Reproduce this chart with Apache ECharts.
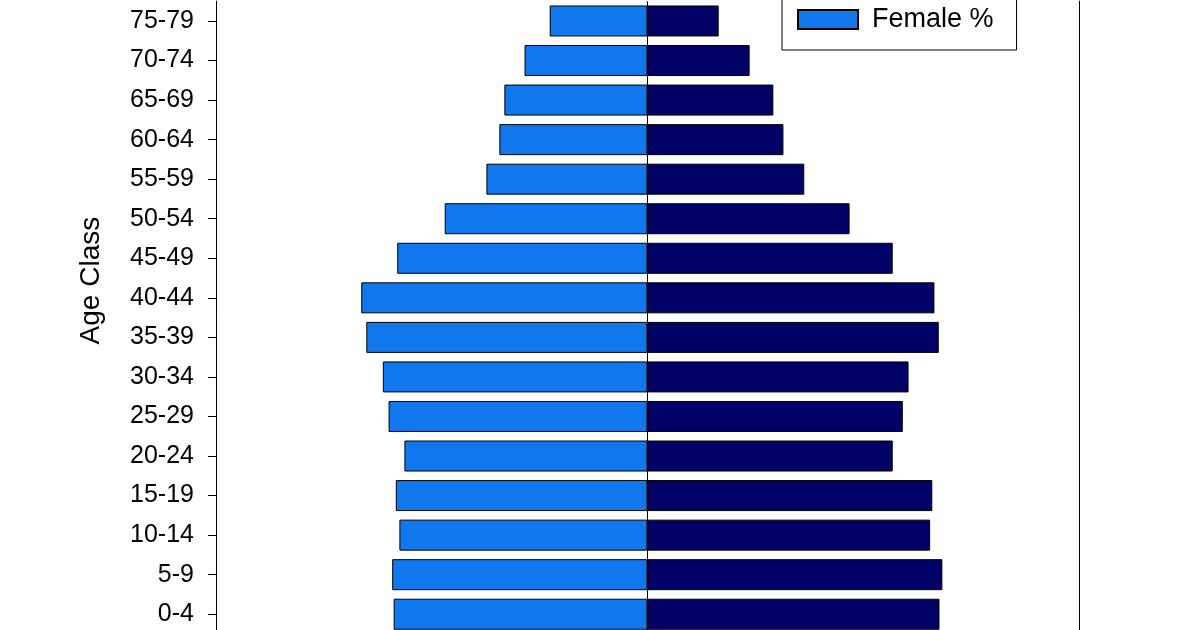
<!DOCTYPE html>
<html>
<head>
<meta charset="utf-8">
<title>Age Class</title>
<script src="https://cdn.jsdelivr.net/npm/echarts@6/dist/echarts.min.js"></script>
<style>
  html, body { margin: 0; padding: 0; background: #fff; overflow: hidden; }
  #main { width: 1191px; height: 630px; }
</style>
</head>
<body>
<div id="main"></div>
<script>
// 年龄组，从下到上
var ageClass = ['0-4', '5-9', '10-14', '15-19', '20-24', '25-29', '30-34', '35-39',
  '40-44', '45-49', '50-54', '55-59', '60-64', '65-69', '70-74', '75-79'];
// 女性比例（画在左边）
var femalePct = [3.53, 3.55, 3.45, 3.50, 3.38, 3.60, 3.68, 3.91,
  3.98, 3.48, 2.82, 2.24, 2.06, 1.99, 1.71, 1.36];
// 男性比例（画在右边）
var malePct = [4.06, 4.10, 3.93, 3.96, 3.41, 3.55, 3.63, 4.05,
  3.99, 3.41, 2.81, 2.18, 1.89, 1.75, 1.42, 0.99];

var myChart = echarts.init(document.getElementById('main'));

var font = "'Liberation Sans', Arial, sans-serif";

var option = {
  animation: false,
  backgroundColor: '#fff',
  legend: {
    orient: 'vertical',
    left: 782,
    top: -45,
    padding: [12, 23, 17, 15],
    itemGap: 12,
    itemWidth: 60,
    itemHeight: 19,
    icon: 'rect',
    borderColor: '#000',
    borderWidth: 1,
    backgroundColor: '#fff',
    data: ['Male %', 'Female %'],
    textStyle: {
      fontFamily: font,
      fontSize: 27,
      color: '#000',
      padding: [0, 0, 0, 9]
    }
  },
  grid: {
    left: 216,
    right: 112,
    top: 1.2,
    bottom: -4,
    outerBoundsMode: 'none',
    containLabel: false
  },
  xAxis: {
    type: 'value',
    min: -6,
    max: 6,
    show: false
  },
  yAxis: [
    {
      type: 'category',
      data: ageClass,
      name: 'Age Class',
      nameLocation: 'middle',
      nameRotate: 90,
      nameGap: 111,
      nameTextStyle: {
        fontFamily: font,
        fontSize: 28,
        color: '#000',
        // 标题中心往上移（原图上面还有被裁掉的组）
        padding: [0, 0, 0, 74]
      },
      axisLine: { show: true, onZero: false, lineStyle: { color: '#000', width: 1 } },
      axisTick: { show: true, inside: false, alignWithLabel: true, length: 8, lineStyle: { color: '#000', width: 1 } },
      axisLabel: {
        margin: 22,
        fontFamily: font,
        fontSize: 25,
        color: '#000',
        padding: [4, 0, 0, 0]
      },
      splitLine: { show: false }
    },
    {
      // 右边框线
      type: 'category',
      data: ageClass,
      position: 'right',
      axisLine: { show: true, onZero: false, lineStyle: { color: '#000', width: 1 } },
      axisTick: { show: false },
      axisLabel: { show: false },
      splitLine: { show: false }
    }
  ],
  series: [
    {
      name: 'Male %',
      type: 'bar',
      barWidth: 31,
      barGap: '-100%',
      itemStyle: { color: '#000066', borderColor: '#000', borderWidth: 1 },
      data: malePct,
      markLine: {
        silent: true,
        z: 1,
        symbol: 'none',
        label: { show: false },
        lineStyle: { color: '#000', width: 1, type: 'solid' },
        data: [{ xAxis: 0 }]
      }
    },
    {
      name: 'Female %',
      type: 'bar',
      barWidth: 31,
      barGap: '-100%',
      itemStyle: { color: '#1077ED', borderColor: '#000', borderWidth: 1 },
      // 女性放在左边，取负值
      data: femalePct.map(function (v) { return -v; })
    }
  ]
};

myChart.setOption(option);
</script>
</body>
</html>
